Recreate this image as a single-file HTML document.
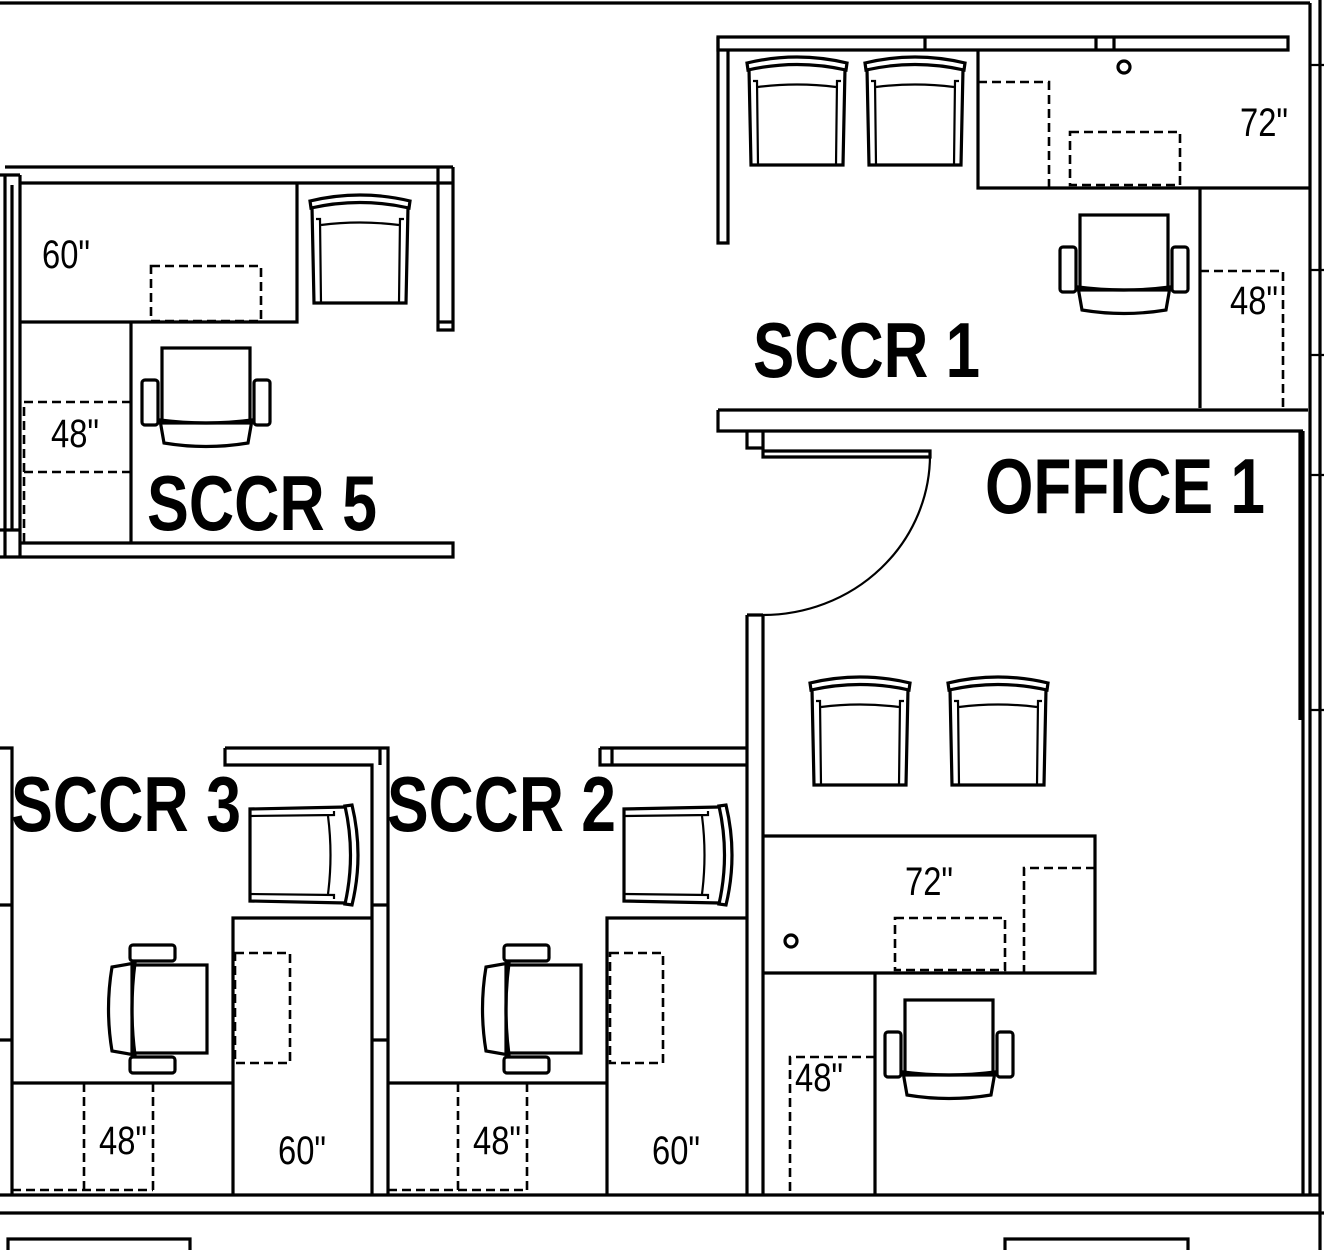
<!DOCTYPE html>
<html><head><meta charset="utf-8"><style>
html,body{margin:0;padding:0;background:#fff;width:1324px;height:1250px;overflow:hidden}
svg{display:block}
.l{fill:none;stroke:#000;stroke-width:3.2}
.t{fill:none;stroke:#000;stroke-width:2.2}
.d{fill:none;stroke:#000;stroke-width:2.6;stroke-dasharray:9 5}
.lab{font-family:"Liberation Sans",sans-serif;font-weight:bold;font-size:78px;fill:#000}
.dim{font-family:"Liberation Sans",sans-serif;font-size:40px;fill:#000}
</style></head><body>
<svg width="1324" height="1250" viewBox="0 0 1324 1250" xmlns="http://www.w3.org/2000/svg">
<defs>
<g id="gc">
<path class="l" d="M2,8 Q52,-4 102,8 L101,15 Q52,4 3,15 Z"/>
<path class="l" d="M4,14 L6,110 L98,110 L100,14"/>
<path class="t" d="M8,26 L12,26 L13,110 M96,26 L92,26 L91,110"/>
<path class="t" d="M13,32 Q52,27 91,32"/>
</g>
<g id="tc">
<rect class="l" x="22" y="0" width="88" height="75"/>
<rect class="l" x="2" y="32" width="16" height="45" rx="3"/>
<rect class="l" x="114" y="32" width="16" height="45" rx="3"/>
<path class="l" d="M20,72 Q66,78 112,72 L108,95 Q66,102 24,95 Z"/>
</g>
</defs>

<path class="l" d="M0,3 L1310,3"/>
<path class="l" d="M1310,3 L1310,1195 M1320,0 L1320,1250 M1300,432 L1300,720"/>
<path class="t" d="M1310,65 L1324,65 M1310,270 L1324,270 M1310,355 L1324,355 M1310,475 L1324,475 M1310,710 L1324,710"/>
<path class="l" d="M0,1195 L1320,1195 M0,1213 L1324,1213"/>
<path class="l" d="M8,1250 L8,1239 L190,1239 L190,1250 M1005,1250 L1005,1239 L1188,1239 L1188,1250"/>

<!-- SCCR 1 -->
<path class="l" d="M718,37 L1288,37 L1288,50 L718,50 Z"/>
<path class="l" d="M925,37 L925,50 M1096,37 L1096,50 M1114,37 L1114,50"/>
<path class="l" d="M718,37 L718,243 L728,243 L728,50"/>
<use href="#gc" x="745" y="55"/>
<use href="#gc" x="863" y="55"/>
<path class="l" d="M978,50 L978,188 L1310,188"/>
<path class="d" d="M978,82 L1049,82 L1049,188"/>
<rect class="d" x="1070" y="132" width="110" height="53"/>
<circle class="l" cx="1124" cy="67" r="6"/>
<text class="dim" x="1240" y="136" textLength="48" lengthAdjust="spacingAndGlyphs">72"</text>
<path class="l" d="M1200,188 L1200,408"/>
<path class="d" d="M1200,271 L1283,271 L1283,408"/>
<text class="dim" x="1230" y="314" textLength="48" lengthAdjust="spacingAndGlyphs">48"</text>
<use href="#tc" x="1058" y="215"/>
<text class="lab" x="753" y="377" textLength="227" lengthAdjust="spacingAndGlyphs">SCCR 1</text>

<path class="l" d="M718,410 L1308,410 M718,410 L718,431 L1303,431 M1303,431 L1303,1195"/>
<path class="l" d="M747,431 L747,448 L763,448 L763,431 M763,448 L763,457 L930,457 L930,451 L763,451"/>
<path class="t" d="M930,455 A167,160 0 0 1 763,615"/>
<path class="l" d="M747,615 L763,615 M747,615 L747,1195 M763,615 L763,1195"/>
<text class="lab" x="985" y="513" textLength="280" lengthAdjust="spacingAndGlyphs">OFFICE 1</text>

<use href="#gc" x="808" y="675"/>
<use href="#gc" x="946" y="675"/>
<path class="l" d="M763,836 L1095,836 L1095,973 L763,973"/>
<path class="d" d="M1095,868 L1024,868 L1024,973"/>
<rect class="d" x="895" y="918" width="110" height="52"/>
<circle class="l" cx="791" cy="941" r="6"/>
<text class="dim" x="905" y="895" textLength="48" lengthAdjust="spacingAndGlyphs">72"</text>
<path class="l" d="M875,973 L875,1195"/>
<path class="d" d="M875,1057 L790,1057 L790,1195"/>
<text class="dim" x="795" y="1091" textLength="48" lengthAdjust="spacingAndGlyphs">48"</text>
<use href="#tc" x="883" y="1000"/>

<!-- SCCR 5 -->
<path class="l" d="M5,167 L453,167 M20,183 L453,183 M438,167 L438,330 L453,330 L453,167 M438,322 L453,322"/>
<path class="l" d="M5,175 L5,557 M12,185 L12,530 M20,175 L20,557 M0,175 L20,175 M0,530 L20,530 M0,557 L20,557"/>
<path class="l" d="M20,322 L297,322 L297,183"/>
<rect class="d" x="151" y="266" width="110" height="55"/>
<text class="dim" x="42" y="268" textLength="48" lengthAdjust="spacingAndGlyphs">60"</text>
<use href="#gc" x="308" y="193"/>
<path class="l" d="M131,322 L131,543"/>
<path class="d" d="M131,402 L24,402 L24,543 M24,472 L131,472"/>
<text class="dim" x="51" y="447" textLength="48" lengthAdjust="spacingAndGlyphs">48"</text>
<use href="#tc" x="140" y="348"/>
<path class="l" d="M20,543 L453,543 L453,557 L20,557"/>
<text class="lab" x="147" y="530" textLength="230" lengthAdjust="spacingAndGlyphs">SCCR 5</text>

<!-- SCCR 3 -->
<path class="l" d="M0,748 L12,748 L12,1195 M0,905 L12,905 M0,1040 L12,1040"/>
<path class="l" d="M225,748 L388,748 L388,1195 M225,748 L225,765 L372,765 L372,1195 M380,748 L380,765"/>
<path class="l" d="M372,905 L388,905 M372,1040 L388,1040"/>
<g transform="translate(360,803) rotate(90)"><use href="#gc"/></g>
<path class="l" d="M233,1195 L233,918 L372,918"/>
<rect class="d" x="235" y="953" width="55" height="110"/>
<text class="dim" x="278" y="1164" textLength="48" lengthAdjust="spacingAndGlyphs">60"</text>
<path class="l" d="M12,1083 L233,1083"/>
<path class="d" d="M84,1083 L84,1190 M153,1083 L153,1190 M12,1190 L153,1190"/>
<text class="dim" x="99" y="1154" textLength="48" lengthAdjust="spacingAndGlyphs">48"</text>
<g transform="translate(207,943) rotate(90)"><use href="#tc"/></g>
<text class="lab" x="11" y="831" textLength="230" lengthAdjust="spacingAndGlyphs">SCCR 3</text>

<!-- SCCR 2 -->
<path class="l" d="M600,748 L747,748 M600,748 L600,765 L747,765 M612,748 L612,765"/>
<g transform="translate(734,803) rotate(90)"><use href="#gc"/></g>
<path class="l" d="M607,1195 L607,918 L747,918"/>
<rect class="d" x="610" y="953" width="53" height="110"/>
<text class="dim" x="652" y="1164" textLength="48" lengthAdjust="spacingAndGlyphs">60"</text>
<path class="l" d="M388,1083 L607,1083"/>
<path class="d" d="M458,1083 L458,1190 M527,1083 L527,1190 M388,1190 L527,1190"/>
<text class="dim" x="473" y="1154" textLength="48" lengthAdjust="spacingAndGlyphs">48"</text>
<g transform="translate(581,943) rotate(90)"><use href="#tc"/></g>
<text class="lab" x="387" y="831" textLength="229" lengthAdjust="spacingAndGlyphs">SCCR 2</text>
</svg>
</body></html>
